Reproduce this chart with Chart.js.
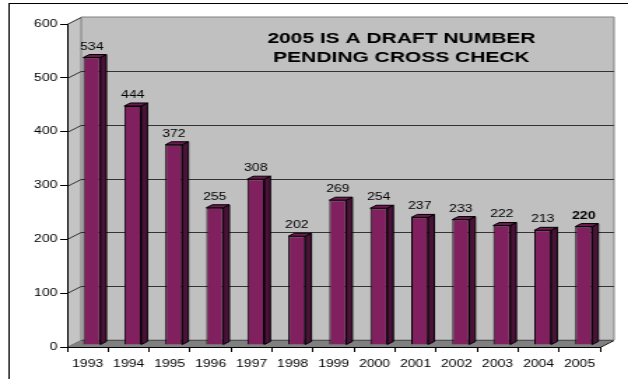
<!DOCTYPE html>
<html>
<head>
<meta charset="utf-8">
<script src="https://cdn.jsdelivr.net/npm/chart.js@4"></script>
<style>
  html, body { margin: 0; padding: 0; background: #fff; overflow: hidden; }
  /* the reference is an old chart stretched sideways, so draw narrow and widen it */
  #wrap { width: 449px; height: 379px; transform: scaleX(1.3987); transform-origin: 0 0; }
</style>
</head>
<body>
<div id="wrap"><canvas id="chart" width="449" height="379"></canvas></div>
<script>
// ── data ─────────────────────────────────────────────
const years  = ['1993', '1994', '1995', '1996', '1997', '1998', '1999', '2000', '2001', '2002', '2003', '2004', '2005'];
const counts = [534, 444, 372, 255, 308, 202, 269, 254, 237, 233, 222, 213, 220];
const yTicks = [0, 100, 200, 300, 400, 500, 600];
const noteLines = ['2005 IS A DRAFT NUMBER', 'PENDING CROSS CHECK'];
const draftYear = '2005';

const FONT = '"Liberation Sans", Arial, sans-serif';
const WALL_DX = 10, WALL_DY = -7;   // depth of the back wall
const BAR_SHIFT_X = 3, BAR_SHIFT_Y = -2;
const BAR_DX = 4.3, BAR_DY = -3;    // depth of each bar

function poly(ctx, pts, fill, stroke) {
    ctx.beginPath();
    ctx.moveTo(pts[0][0], pts[0][1]);
    pts.slice(1).forEach(p => ctx.lineTo(p[0], p[1]));
    ctx.closePath();
    if (fill)   { ctx.fillStyle = fill; ctx.fill(); }
    if (stroke) { ctx.strokeStyle = stroke; ctx.lineWidth = 1; ctx.stroke(); }
}

const box3d = {
    id: 'box3d',
    beforeDraw(chart) {
        const { ctx, chartArea: { left, right, top, bottom }, scales: { y } } = chart;
        ctx.save();
        ctx.fillStyle = '#fff';
        ctx.fillRect(0, 0, chart.width, chart.height);
        ctx.strokeStyle = '#000';
        ctx.lineWidth = 1;
        ctx.strokeRect(6.5, 3.5, 1000, 1000);

        // left side wall + back wall
        poly(ctx, [[left, top], [left + WALL_DX, top + WALL_DY], [left + WALL_DX, bottom + WALL_DY], [left, bottom]], '#c4c4c4', null);
        poly(ctx, [[left + WALL_DX, top + WALL_DY], [right + WALL_DX, top + WALL_DY], [right + WALL_DX, bottom + WALL_DY], [left + WALL_DX, bottom + WALL_DY]], '#c0c0c0', '#808080');

        // gridlines, on the side wall and the back wall
        ctx.strokeStyle = '#333';
        yTicks.forEach(v => {
            const py = Math.round(y.getPixelForValue(v)) + 0.5;
            ctx.beginPath();
            ctx.moveTo(left, py);
            ctx.lineTo(left + WALL_DX, py + WALL_DY);
            if (v > 0 && v < 600) ctx.lineTo(right + WALL_DX, py + WALL_DY);
            ctx.stroke();
        });

        // floor
        poly(ctx, [[left, bottom], [right, bottom], [right + WALL_DX, bottom + WALL_DY], [left + WALL_DX, bottom + WALL_DY]], '#808080', null);
        ctx.strokeStyle = '#000';
        ctx.beginPath();
        ctx.moveTo(right, bottom + 0.5);
        ctx.lineTo(right + WALL_DX, bottom + WALL_DY + 0.5);
        ctx.stroke();
        ctx.strokeStyle = '#555';
        ctx.beginPath();
        ctx.moveTo(left + WALL_DX, bottom + WALL_DY + 0.5);
        ctx.lineTo(right + WALL_DX, bottom + WALL_DY + 0.5);
        ctx.stroke();

        // note on the back wall
        ctx.fillStyle = '#000';
        ctx.font = `bold 15px ${FONT}`;
        ctx.textAlign = 'center';
        ctx.textBaseline = 'alphabetic';
        ctx.fillText(noteLines[0], 287, 43);
        ctx.fillText(noteLines[1], 287, 62);
        ctx.restore();
    },
    beforeDatasetsDraw(chart) {
        chart.ctx.save();
        chart.ctx.translate(BAR_SHIFT_X, BAR_SHIFT_Y);
    },
    afterDatasetsDraw(chart) {
        const ctx = chart.ctx;
        chart.getDatasetMeta(0).data.forEach((bar, i) => {
            const { x, y, base, width } = bar.getProps(['x', 'y', 'base', 'width'], true);
            const l = x - width / 2, r = x + width / 2;
            poly(ctx, [[r, y], [r + BAR_DX, y + BAR_DY], [r + BAR_DX, base + BAR_DY], [r, base]], '#4a1238', '#000');
            poly(ctx, [[l, y], [l + BAR_DX, y + BAR_DY], [r + BAR_DX, y + BAR_DY], [r, y]], '#6d1a50', '#000');

            ctx.fillStyle = '#000';
            ctx.font = (years[i] === draftYear ? 'bold ' : '') + `10px ${FONT}`;
            ctx.textAlign = 'center';
            ctx.textBaseline = 'alphabetic';
            ctx.fillText(String(counts[i]), x, y - 8);
        });
        ctx.restore();
    },
};

Chart.defaults.color = '#000';
Chart.defaults.font.family = FONT;
Chart.defaults.font.size = 10;

new Chart(document.getElementById('chart'), {
    type: 'bar',
    data: {
        labels: years,
        datasets: [{
            data: counts,
            backgroundColor: '#80205f',
            borderColor: '#000',
            borderWidth: 1,
            barPercentage: 0.416,
            categoryPercentage: 1,
        }],
    },
    options: {
        responsive: false,
        animation: false,
        layout: { padding: { top: 24, right: 20, left: 0, bottom: 0 } },
        plugins: { legend: { display: false }, tooltip: { enabled: false } },
        scales: {
            x: {
                border: { color: '#000' },
                grid: { drawOnChartArea: false, tickLength: 5, color: '#000', offset: true },
                ticks: { padding: 6, maxRotation: 0, autoSkip: false },
                afterFit: s => { s.height = 32; },
            },
            y: {
                min: 0, max: 600,
                afterBuildTicks: s => { s.ticks = yTicks.map(v => ({ value: v })); },
                border: { color: '#000' },
                grid: { drawOnChartArea: false, tickLength: 5, color: '#000' },
                ticks: { padding: 2 },
                afterFit: s => { s.width = 48; },
            },
        },
    },
    plugins: [box3d],
});
</script>
</body>
</html>
